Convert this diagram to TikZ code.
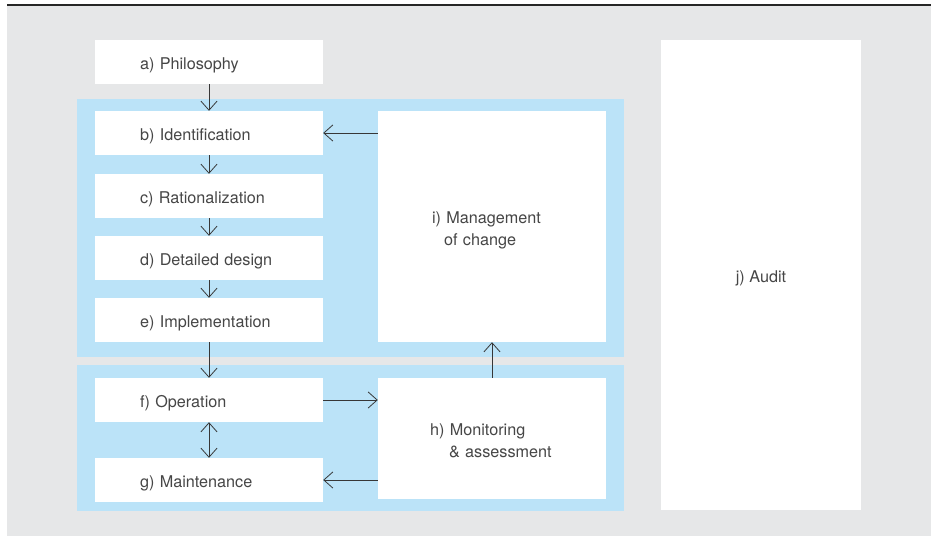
\documentclass[tikz,border=0pt]{standalone}
\usepackage{fontspec}
\setmainfont{TeX Gyre Heros}
\usetikzlibrary{arrows.meta}
\definecolor{bggray}{RGB}{230,231,232}
\definecolor{skyblue}{RGB}{187,227,248}
\definecolor{txtgray}{RGB}{70,70,70}
\definecolor{linegray}{RGB}{55,55,55}

\begin{document}
\begin{tikzpicture}[x=1pt,y=-1pt,>={Straight Barb[length=9pt,width=16pt]},
  box/.style={fill=white,inner xsep=45pt,inner ysep=0pt,text width=138pt,minimum height=44pt,
    text height=15pt,text depth=0pt,align=left,font=\fontsize{16.2}{22}\selectfont,text=txtgray},
  bigbox/.style={fill=white,inner ysep=0pt,align=left,font=\fontsize{16.2}{22}\selectfont,text=txtgray},
  link/.style={draw=linegray,line width=0.8pt}]
  \useasboundingbox (0,0) rectangle (935,536);
  \fill[bggray] (7,5) rectangle (931,536);
  \draw[line width=1.5pt,black!85] (7,5) -- (931,5);
  % blue panels
  \fill[skyblue] (77,99) rectangle (624,357);
  \fill[skyblue] (77,365) rectangle (624,511);
  % left column
  \node[box] (a) at (209,62) {a) Philosophy};
  \node[box] (b) at (209,133) {b) Identification};
  \node[box] (c) at (209,196) {c) Rationalization};
  \node[box] (d) at (209,258) {d) Detailed design};
  \node[box] (e) at (209,320) {e) Implementation};
  \node[box] (f) at (209,400) {f) Operation};
  \node[box] (g) at (209,480) {g) Maintenance};
  % right column
  \node[bigbox,inner xsep=54pt,text width=120pt,minimum height=231pt,text height=11pt,text depth=17.5pt]
    (i) at (492,226.5) {i) Management\\\hspace*{12pt}of change};
  \node[bigbox,inner xsep=52pt,text width=124pt,minimum height=121pt,text height=11pt,text depth=18pt]
    (h) at (492,438.5) {h) Monitoring\\\hspace*{19pt}\& assessment};
  \node[bigbox,align=center,minimum width=200pt,minimum height=470pt,text height=14pt,text depth=0pt]
    (j) at (761,275) {j) Audit};
  % connectors
  \draw[link,->] (a) -- (b);
  \draw[link,->] (b) -- (c);
  \draw[link,->] (c) -- (d);
  \draw[link,->] (d) -- (e);
  \draw[link,->] (e) -- (f);
  \draw[link,<->] (f) -- (g);
  \draw[link,->] (i.west |- b.east) -- (b.east);
  \draw[link,->] (f.east) -- (f.east -| h.west);
  \draw[link,->] (g.east -| h.west) -- (g.east);
  \draw[link,->] (h) -- (i);
\end{tikzpicture}
\end{document}
